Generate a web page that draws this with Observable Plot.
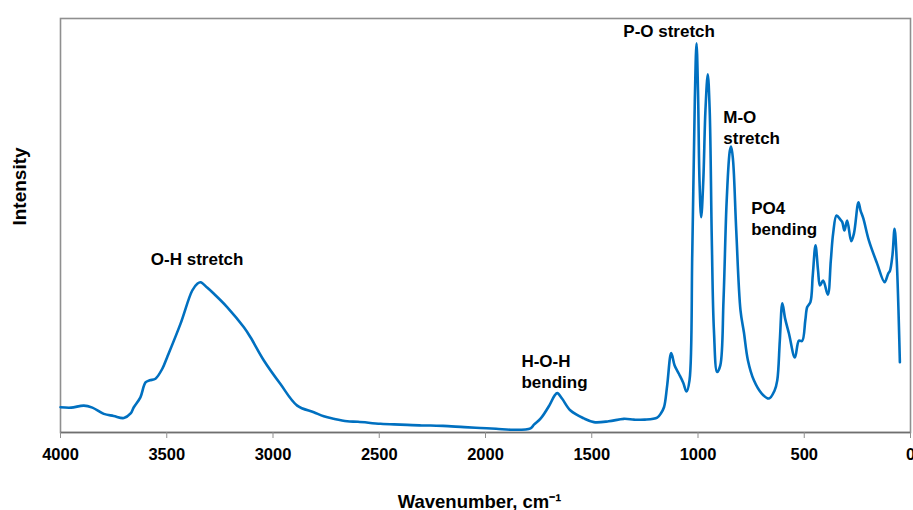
<!DOCTYPE html>
<html><head><meta charset="utf-8">
<script src="https://cdn.jsdelivr.net/npm/d3@7"></script>
<script src="https://cdn.jsdelivr.net/npm/@observablehq/plot@0.6"></script>
<style>
body{margin:0;background:#fff;}
</style></head><body><div id="chart"></div>
<script>
// Raman-style spectrum readings (wavenumber in cm-1, intensity in arbitrary units 0-100)
const wavenumber = [4000,3950,3890,3850,3796,3750,3702,3670,3655,3624,3600,3580,3553,3520,3498,3435,3380,3355,3341,3310,3278,3216,3137,3106,3043,2965,2886,2808,2761,2714,2651,2600,2494,2400,2300,2259,2200,2100,2024,1950,1867,1788,1772,1740,1700,1675,1662,1640,1600,1537,1490,1420,1349,1300,1250,1192,1175,1160,1145,1126,1110,1090,1070,1054,1040,1027,1015,1007,1000,993,985,975,965,954,945,935,925,910,895,880,865,850,844,835,820,800,784,765,737,700,666,640,627,615,603,590,572,544,525,510,495,486,471,460,447,435,426,411,389,375,364,348,330,321,311,298,279,266,245,235,222,196,157,122,105,97,85,75,65,50];
const intensity = [6.1,6.0,6.5,6.0,4.5,4.0,3.5,4.6,6.1,8.5,12.1,12.6,13.0,15.5,18.2,26.3,34.3,36.0,36.3,35.0,33.5,30.3,25.4,23.0,17.4,11.7,6.5,4.9,3.9,3.3,2.7,2.6,2.1,1.9,1.7,1.7,1.6,1.3,1.1,0.9,0.65,1.0,1.9,3.4,6.5,8.9,9.5,8.2,5.3,3.4,2.5,2.7,3.3,3.1,3.1,3.6,4.6,6.1,11.4,19.2,16.2,14.2,12.1,9.9,12.6,43.2,80.2,94.0,82.6,60.9,52.0,60.9,77.8,86.5,77.8,46.4,24.6,14.6,16.2,31.9,56.0,68.1,69.1,65.7,48.8,29.5,24.2,17.4,12.6,9.4,8.2,10.1,12.6,22.2,31.2,27.5,23.9,18.1,22.2,22.1,27.1,30.3,31.5,37.9,45.2,39.1,35.5,36.7,33.3,41.5,48.1,52.4,51.4,50.8,48.8,51.2,46.2,48.1,55.6,53.6,51.7,46.4,40.8,36.3,38.4,39.0,42.8,49.2,41.8,17.0];

// Annotations
const labelText = ["O-H stretch", "H-O-H\nbending", "P-O stretch", "M-O\nstretch", "PO4\nbending"];
const labelX = [3357, 1831, 1136, 881, 750];
const labelY = [40.5, 10.8, 95.5, 69.7, 47.8];
const labelAlign = ["middle", "start", "middle", "start", "start"];

// Axis ticks and titles
const xTicks = [4000, 3500, 3000, 2500, 2000, 1500, 1000, 500, 0];
const xTitle = "Wavenumber, cm⁻¹";
const yTitle = "Intensity";

const spectrum = wavenumber.map((w, i) => ({w, v: intensity[i]}));
const labels = labelText.map((t, i) => ({t, x: labelX[i], y: labelY[i], a: labelAlign[i]}));

const chart = Plot.plot({
  width: 913, height: 510,
  marginLeft: 60, marginRight: 3, marginTop: 18, marginBottom: 78,
  style: {fontFamily: "'Liberation Sans', Arial, sans-serif", fontWeight: "bold", color: "#000", background: "#fff"},
  x: {domain: [0, 4000], reverse: true},
  y: {domain: [0, 100], axis: null},
  marks: [
    Plot.frame({stroke: "#8f8f8f", strokeWidth: 1.6}),
    Plot.ruleY([0], {stroke: "#6f6f6f", strokeWidth: 1.6}),
    Plot.axisX({ticks: xTicks, tickFormat: d => String(d), tickSize: 6, tickPadding: 10, stroke: "#8f8f8f", fill: "#000", fontSize: 16.5, fontWeight: "bold", label: null}),
    Plot.line(spectrum, {x: "w", y: "v", stroke: "#0070C0", strokeWidth: 2.6, curve: "catmull-rom"}),
    Plot.text(labels.filter(d => d.a === "middle"), {x: "x", y: "y", text: "t", textAnchor: "middle", lineAnchor: "bottom", lineHeight: 1.24, fontSize: 17, fontWeight: "bold", fill: "#000"}),
    Plot.text(labels.filter(d => d.a === "start"), {x: "x", y: "y", text: "t", textAnchor: "start", lineAnchor: "bottom", lineHeight: 1.24, fontSize: 17, fontWeight: "bold", fill: "#000"}),
    Plot.text([xTitle], {frameAnchor: "bottom", textAnchor: "middle", lineAnchor: "bottom", dx: -6, dy: 75, fontSize: 18.5, fontWeight: "bold", fill: "#000"}),
    Plot.text([yTitle], {frameAnchor: "left", textAnchor: "middle", rotate: -90, dx: -41, dy: -39, fontSize: 19, fontWeight: "bold", fill: "#000"})
  ]
});
document.getElementById("chart").appendChild(chart);
</script></body></html>
